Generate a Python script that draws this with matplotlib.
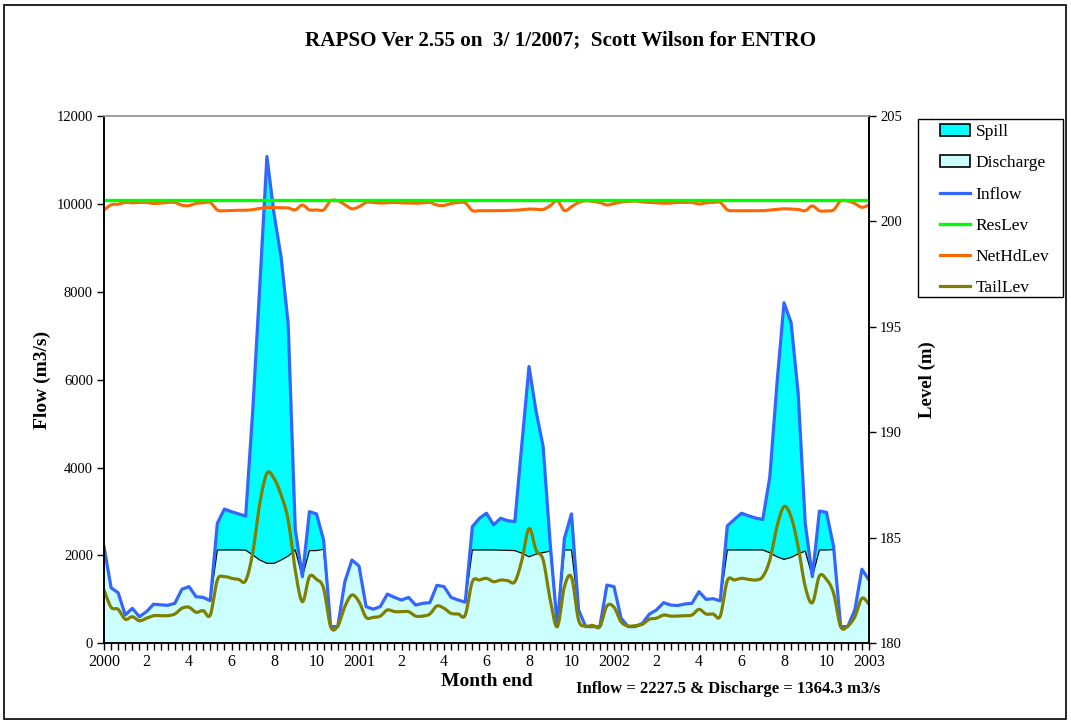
import numpy as np
import matplotlib
matplotlib.use('Agg')
import matplotlib.pyplot as plt
from matplotlib.patches import Patch, Rectangle
from matplotlib.lines import Line2D

plt.rcParams['font.family'] = ['Liberation Serif', 'DejaVu Serif']

# dekads from Jan 2000 to Jan 2003
n_pts = 109
tick_labels = ['2000', '2', '4', '6', '8', '10',
               '2001', '2', '4', '6', '8', '10',
               '2002', '2', '4', '6', '8', '10', '2003']

# flows (m3/s)
inflow = [2200, 1265, 1150, 645, 795, 605, 720, 890, 875, 865,
          910, 1230, 1290, 1060, 1045, 970, 2730, 3055, 2995, 2945,
          2895, 5300, 8150, 11080, 9780, 8790, 7280, 2600, 1515, 2995,
          2945, 2350, 380, 380, 1400, 1895, 1760, 835, 775, 835,
          1120, 1045, 985, 1045, 870, 910, 925, 1320, 1290, 1045,
          985, 935, 2655, 2845, 2960, 2695, 2845, 2790, 2770, 4550,
          6300, 5280, 4475, 2250, 380, 2390, 2945, 760, 380, 380,
          380, 1325, 1290, 570, 380, 380, 455, 665, 760, 925,
          870, 860, 895, 910, 1175, 1000, 1015, 965, 2675, 2820,
          2960, 2900, 2850, 2820, 3790, 5900, 7750, 7300, 5690, 2730,
          1515, 3010, 2980, 2200, 380, 380, 760, 1685, 1440]

discharge = [2200, 1265, 1150, 645, 795, 605, 720, 890, 875, 865,
             910, 1230, 1290, 1060, 1045, 970, 2125, 2125, 2125, 2125,
             2120, 2010, 1895, 1820, 1820, 1895, 1985, 2125, 1515, 2110,
             2110, 2140, 380, 380, 1400, 1895, 1760, 835, 775, 835,
             1120, 1045, 985, 1045, 870, 910, 925, 1320, 1290, 1045,
             985, 935, 2125, 2125, 2125, 2125, 2120, 2115, 2110, 2050,
             1970, 2030, 2065, 2100, 380, 2125, 2125, 760, 380, 380,
             380, 1325, 1290, 570, 380, 380, 455, 665, 760, 925,
             870, 860, 895, 910, 1175, 1000, 1015, 965, 2125, 2125,
             2125, 2125, 2125, 2125, 2060, 1970, 1910, 1955, 2035, 2100,
             1515, 2125, 2125, 2135, 380, 380, 760, 1685, 1440]

# levels (m)
tail_lev = [182.53, 181.71, 181.61, 181.14, 181.26, 181.07, 181.19, 181.31, 181.31, 181.31,
            181.39, 181.66, 181.71, 181.47, 181.55, 181.34, 183.00, 183.16, 183.08, 183.03,
            182.97, 184.30, 186.64, 188.06, 187.82, 187.03, 185.85, 183.47, 181.97, 183.16,
            183.03, 182.61, 180.79, 180.82, 181.74, 182.29, 181.97, 181.23, 181.23, 181.29,
            181.58, 181.50, 181.50, 181.50, 181.29, 181.29, 181.39, 181.77, 181.66, 181.42,
            181.39, 181.34, 182.92, 183.00, 183.08, 182.92, 183.00, 182.97, 182.92, 183.95,
            185.45, 184.42, 183.95, 182.05, 180.79, 182.68, 183.13, 181.10, 180.82, 180.85,
            180.79, 181.77, 181.71, 181.02, 180.82, 180.84, 180.90, 181.14, 181.19, 181.34,
            181.29, 181.29, 181.31, 181.34, 181.61, 181.39, 181.39, 181.29, 182.97, 183.00,
            183.08, 183.03, 183.00, 183.16, 183.95, 185.53, 186.48, 186.00, 184.58, 182.68,
            181.92, 183.19, 183.03, 182.37, 180.79, 180.82, 181.26, 182.13, 181.86]

net_hd_lev = [200.54, 200.79, 200.82, 200.90, 200.88, 200.90, 200.90, 200.85, 200.87, 200.90,
              200.90, 200.77, 200.75, 200.86, 200.88, 200.90, 200.54, 200.51, 200.52, 200.53,
              200.53, 200.56, 200.62, 200.66, 200.66, 200.65, 200.64, 200.55, 200.78, 200.55,
              200.55, 200.55, 200.98, 200.98, 200.80, 200.60, 200.70, 200.90, 200.90, 200.87,
              200.88, 200.90, 200.88, 200.87, 200.86, 200.88, 200.90, 200.78, 200.76, 200.85,
              200.90, 200.88, 200.52, 200.51, 200.51, 200.51, 200.51, 200.52, 200.53, 200.56,
              200.59, 200.58, 200.57, 200.75, 200.98, 200.52, 200.70, 200.90, 200.98, 200.95,
              200.90, 200.78, 200.85, 200.92, 200.95, 200.97, 200.92, 200.90, 200.88, 200.86,
              200.87, 200.90, 200.90, 200.90, 200.83, 200.88, 200.90, 200.90, 200.55, 200.51,
              200.51, 200.51, 200.51, 200.51, 200.54, 200.58, 200.60, 200.59, 200.57, 200.51,
              200.74, 200.51, 200.50, 200.55, 200.97, 200.97, 200.85, 200.67, 200.78]

res_lev = [201.0] * n_pts


def smooth(xs, ys, k=10):
    # catmull-rom curve through the points, like excel "smoothed line"
    xs = np.asarray(xs, float)
    ys = np.asarray(ys, float)
    px = np.concatenate([[2 * xs[0] - xs[1]], xs, [2 * xs[-1] - xs[-2]]])
    py = np.concatenate([[2 * ys[0] - ys[1]], ys, [2 * ys[-1] - ys[-2]]])
    t = np.linspace(0, 1, k, endpoint=False)
    ox, oy = [], []
    for i in range(1, len(px) - 2):
        for p, o in ((px, ox), (py, oy)):
            p0, p1, p2, p3 = p[i - 1], p[i], p[i + 1], p[i + 2]
            o.extend(0.5 * (2 * p1 + (-p0 + p2) * t + (2 * p0 - 5 * p1 + 4 * p2 - p3) * t ** 2
                            + (-p0 + 3 * p1 - 3 * p2 + p3) * t ** 3))
    ox.append(xs[-1])
    oy.append(ys[-1])
    return np.array(ox), np.array(oy)


x = np.arange(n_pts)
inflow = np.array(inflow, float)
discharge = np.array(discharge, float)
spill = inflow - discharge

fig = plt.figure(figsize=(10.71, 7.24), dpi=100)
W, H = 1071.0, 724.0
ax = fig.add_axes([104 / W, 1 - 643.3 / H, (869 - 104) / W, (643.3 - 116) / H])
ax2 = ax.twinx()

ax.fill_between(x, 0, discharge, color='#CCFFFF', lw=0)
ax.fill_between(x, discharge, discharge + spill, color='#00FFFF', lw=0)
ax.plot(x, discharge, color='black', lw=0.9)
ax.plot(x, inflow, color='#3366FF', lw=2.3)

sx, sy = smooth(x, net_hd_lev)
ax2.plot(sx, sy, color='#FF6600', lw=2.2)
ax2.plot(x, res_lev, color='#00FF00', lw=2.4)
sx, sy = smooth(x, tail_lev)
ax2.plot(sx, sy, color='#808000', lw=2.3)

ax.set_xlim(0, 108)
ax.set_ylim(0, 12000)
ax2.set_ylim(180, 205)
ax.set_yticks(np.arange(0, 12001, 2000))
ax2.set_yticks(np.arange(180, 206, 5))
ax.set_xticks(np.arange(0, 109, 6))
ax.set_xticklabels(tick_labels)
ax.set_xticks(np.arange(0, 109, 1), minor=True)

ax.tick_params(axis='x', which='both', direction='out', length=5, width=1, labelsize=11.5, pad=3)
ax.tick_params(axis='y', direction='out', length=5, width=1, labelsize=10.5, pad=3)
ax2.tick_params(axis='y', direction='out', length=5, width=1, labelsize=10.5, pad=3)

for a in (ax, ax2):
    a.spines['top'].set_color('#A0A0A0')
    a.spines['top'].set_linewidth(1.2)
    a.spines['left'].set_linewidth(1.2)
    a.spines['right'].set_linewidth(1.2)
    a.spines['bottom'].set_linewidth(1.2)

ax.set_ylabel('Flow (m3/s)', fontsize=14, fontweight='bold', labelpad=4)
ax2.set_ylabel('Level (m)', fontsize=13.5, fontweight='bold', labelpad=12)

fig.text(0.523, 1 - 40 / H, 'RAPSO Ver 2.55 on  3/ 1/2007;  Scott Wilson for ENTRO',
         ha='center', va='center', fontsize=15.2, fontweight='bold')
fig.text(487 / W, 1 - 682 / H, 'Month end', ha='center', va='center',
         fontsize=14, fontweight='bold')
fig.text(728 / W, 1 - 689 / H, 'Inflow = 2227.5 & Discharge = 1364.3 m3/s',
         ha='center', va='center', fontsize=12, fontweight='bold')

# chart border and legend frame
fig.patches.append(Rectangle((4 / W, 1 - 719 / H), 1062 / W, 714 / H, transform=fig.transFigure,
                             fill=False, edgecolor='black', lw=1.2))
fig.patches.append(Rectangle((918 / W, 1 - 297 / H), 145 / W, 178 / H, transform=fig.transFigure,
                             fill=False, edgecolor='black', lw=1.0))

handles = [Patch(facecolor='#00FFFF', edgecolor='black', lw=1.2),
           Patch(facecolor='#CCFFFF', edgecolor='black', lw=1.2),
           Line2D([], [], color='#3366FF', lw=2.3),
           Line2D([], [], color='#00FF00', lw=2.4),
           Line2D([], [], color='#FF6600', lw=2.2),
           Line2D([], [], color='#808000', lw=2.3)]
labels = ['Spill', 'Discharge', 'Inflow', 'ResLev', 'NetHdLev', 'TailLev']
leg = fig.legend(handles, labels, loc='upper left', bbox_to_anchor=(940 / W, 1 - 124 / H),
                 frameon=False, fontsize=12.5, handlelength=1.75, handleheight=0.65,
                 handletextpad=0.3, labelspacing=0.88, borderpad=0, borderaxespad=0)

fig.savefig('out.png', dpi=100)
